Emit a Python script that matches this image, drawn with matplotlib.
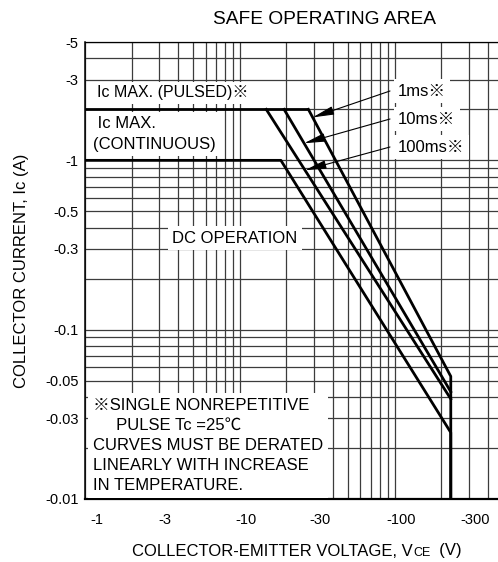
import numpy as np
import matplotlib
matplotlib.use("Agg")
import matplotlib.pyplot as plt
import matplotlib.transforms as mtransforms
from matplotlib.ticker import LogLocator, NullFormatter
from matplotlib.offsetbox import TextArea, HPacker, AnnotationBbox

plt.rcParams['font.family'] = ['Liberation Sans', 'Noto Sans CJK JP', 'DejaVu Sans']

# tick values / labels
v_ticks = [1, 3, 10, 30, 100, 300]
v_labels = ["-1", "-3", "-10", "-30", "-100", "-300"]
i_ticks = [0.01, 0.03, 0.05, 0.1, 0.3, 0.5, 1, 3, 5]
i_labels = ["-0.01", "-0.03", "-0.05", "-0.1", "-0.3", "-0.5", "-1", "-3", "-5"]

# SOA boundaries (|Vce| in V, |Ic| in A)
pulse_v = [1, 27.7]
pulse_i = [2, 2]
ms1_v = [27.7, 230, 230]
ms1_i = [2, 0.053, 0.01]
ms10_v = [19.3, 230]
ms10_i = [2, 0.043]
ms100_v = [14.8, 230]
ms100_i = [2, 0.039]
dc_v = [1, 18.4, 230, 230]
dc_i = [1, 1, 0.0247, 0.01]

W, H = 498, 562
fig = plt.figure(figsize=(W / 100, H / 100), dpi=100)


def fx(px):
    return px / W


def fy(py):
    return 1 - py / H


ax = fig.add_axes([fx(85), fy(499), fx(503) - fx(85), fy(42) - fy(499)])
ax.set_xscale('log')
ax.set_yscale('log')
ax.set_xlim(1, 500)
ax.set_ylim(0.01, 5)

ax.set_xticks(v_ticks, labels=v_labels)
ax.set_yticks(i_ticks, labels=i_labels)
ax.xaxis.set_minor_locator(LogLocator(base=10, subs=np.arange(1, 10)))
ax.yaxis.set_minor_locator(LogLocator(base=10, subs=np.arange(1, 10)))
ax.xaxis.set_minor_formatter(NullFormatter())
ax.yaxis.set_minor_formatter(NullFormatter())
ax.tick_params(which='both', length=0, labelsize=10.5)
ax.tick_params(axis='x', pad=10)
ax.tick_params(axis='y', pad=4.5)
ax.grid(True, which='both', color='#3c3c3c', lw=0.9)
ax.set_axisbelow(True)

for n, lbl in enumerate(ax.get_xticklabels()):
    dx = 12 if n == 0 else 6
    lbl.set_transform(lbl.get_transform() +
                      mtransforms.ScaledTranslation(dx / 100, 0, fig.dpi_scale_trans))

ax.spines['bottom'].set_linewidth(1.6)
ax.spines['left'].set_linewidth(1.1)
ax.spines['top'].set_linewidth(0.9)
ax.spines['right'].set_visible(False)

lw = 2.0
ax.plot(pulse_v, pulse_i, color='black', lw=lw, zorder=5, solid_capstyle='butt')
ax.plot(ms1_v, ms1_i, color='black', lw=lw, zorder=5)
ax.plot(ms10_v, ms10_i, color='black', lw=lw, zorder=5)
ax.plot(ms100_v, ms100_i, color='black', lw=lw, zorder=5)
ax.plot(dc_v, dc_i, color='black', lw=lw, zorder=5, solid_capstyle='butt')

box = dict(facecolor='white', edgecolor='none', boxstyle='square,pad=0.25')
tr = fig.transFigure

ax.text(fx(97), fy(93), "Ic MAX. (PULSED)※", transform=tr, fontsize=11.5,
        ha='left', va='center', bbox=box, zorder=3)
ax.text(fx(93), fy(134), " Ic MAX.\n(CONTINUOUS)", transform=tr, fontsize=12,
        ha='left', va='center', linespacing=1.5, bbox=box, zorder=3)
ax.text(fx(235), fy(238), "DC OPERATION", transform=tr, fontsize=12,
        ha='center', va='center', bbox=box, zorder=3)


def on_curve(vs, iv, frac):
    lv = np.log10(vs[:2])
    li = np.log10(iv[:2])
    return 10 ** (lv[0] + frac * (lv[1] - lv[0])), 10 ** (li[0] + frac * (li[1] - li[0]))


pulse_labels = [("1ms※", 91, ms1_v, ms1_i, 0.03),
                ("10ms※", 119, ms10_v, ms10_i, 0.12),
                ("100ms※", 147, ms100_v, ms100_i, 0.21)]
for txt, py, vs, iv, frac in pulse_labels:
    ax.text(fx(398), fy(py), txt, transform=tr, fontsize=12,
            ha='left', va='center', bbox=box, zorder=3)
    hx, hy = on_curve(vs, iv, frac)
    ax.annotate("", xy=(hx, hy), xycoords='data',
                xytext=(fx(390), fy(py)), textcoords='figure fraction',
                arrowprops=dict(arrowstyle='-|>,head_length=1.0,head_width=0.2',
                                color='black', lw=0.8, mutation_scale=13,
                                shrinkA=0, shrinkB=0),
                zorder=6)

note = ("※SINGLE NONREPETITIVE\n"
        "     PULSE Tc =25℃\n"
        "CURVES MUST BE DERATED\n"
        "LINEARLY WITH INCREASE\n"
        "IN TEMPERATURE.")
ax.text(fx(93), fy(445.5), note, transform=tr, fontsize=12, ha='left', va='center',
        linespacing=1.42,
        bbox=dict(facecolor='white', edgecolor='none', boxstyle='square,pad=0.3'),
        zorder=3)

fig.text(fx(324), fy(20), "SAFE OPERATING AREA", fontsize=13.8, ha='center', va='center')
fig.text(fx(22), fy(271), "COLLECTOR CURRENT, Ic (A)", fontsize=12,
         rotation=90, ha='center', va='center')

xl = HPacker(children=[TextArea("COLLECTOR-EMITTER VOLTAGE, V", textprops=dict(size=12)),
                       TextArea("CE", textprops=dict(size=9)),
                       TextArea("  (V)", textprops=dict(size=12))],
             align='baseline', pad=0, sep=0)
fig.add_artist(AnnotationBbox(xl, (fx(297), fy(551)), xycoords='figure fraction',
                              frameon=False, box_alignment=(0.5, 0.5)))

fig.savefig("out.png", dpi=100)
